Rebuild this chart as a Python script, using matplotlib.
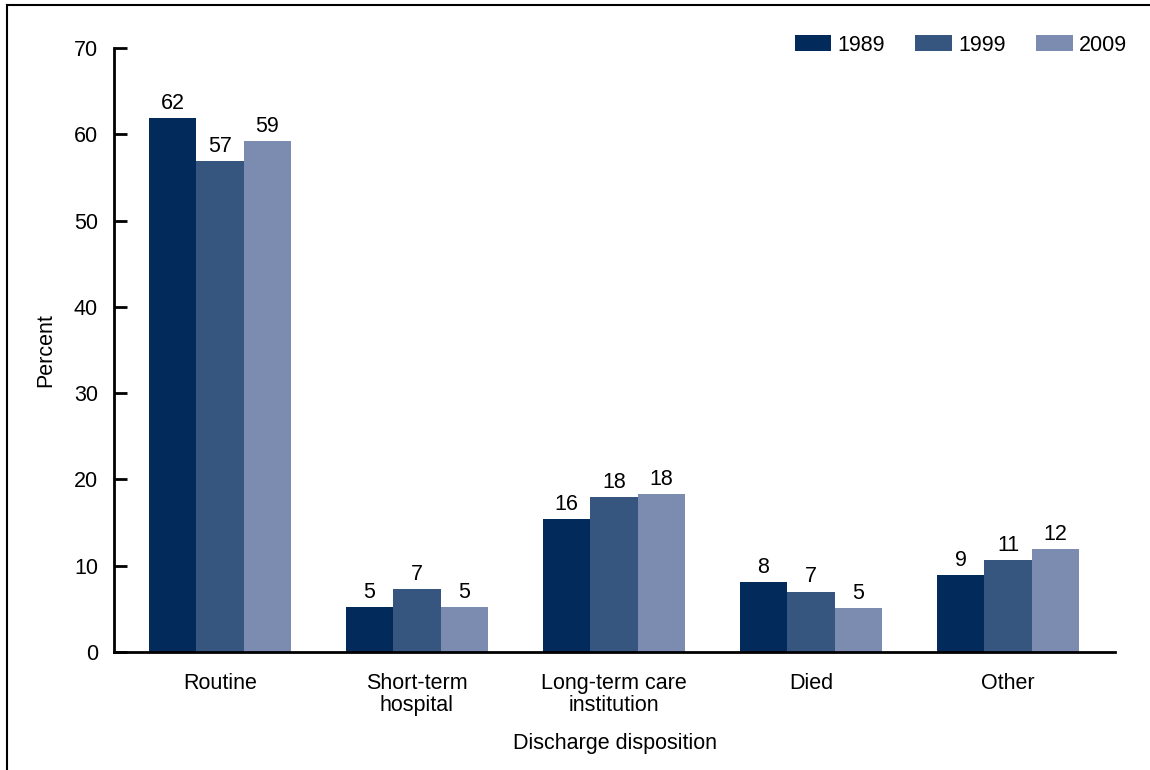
import numpy as np
import matplotlib
matplotlib.use('Agg')
import matplotlib.pyplot as plt
from matplotlib.lines import Line2D

plt.rcParams['font.family'] = ['Liberation Sans', 'DejaVu Sans']

categories = ['Routine', 'Short-term\nhospital', 'Long-term care\ninstitution', 'Died', 'Other']
years = ['1989', '1999', '2009']
v1989 = [61.9, 5.2, 15.4, 8.1, 8.9]
v1999 = [56.9, 7.3, 18.0, 7.0, 10.7]
v2009 = [59.2, 5.2, 18.3, 5.1, 11.9]
labels1989 = ['62', '5', '16', '8', '9']
labels1999 = ['57', '7', '18', '7', '11']
labels2009 = ['59', '5', '18', '5', '12']
colors = ['#022b5c', '#36557f', '#7b8cb0']

fs = 15.5
fig = plt.figure(figsize=(11.5, 7.7), dpi=100)
ax = fig.add_axes([0.0991, 0.1532, 0.8705, 0.7845])

x = np.arange(len(categories))
w = 0.241
series = [v1989, v1999, v2009]
texts = [labels1989, labels1999, labels2009]
for i, (vals, labs) in enumerate(zip(series, texts)):
    pos = x + (i - 1) * w
    ax.bar(pos, vals, width=w, color=colors[i], label=years[i], linewidth=0)
    for p, v, t in zip(pos, vals, labs):
        ax.annotate(t, (p, v), xytext=(0, 3), textcoords='offset points',
                    ha='center', va='bottom', fontsize=fs)

ax.set_xlim(-0.538, 4.543)
ax.set_ylim(0, 70)
ax.set_yticks(np.arange(0, 71, 10))
ax.set_xticks(x)
ax.set_xticklabels(categories, fontsize=fs, linespacing=1.1)
ax.tick_params(axis='x', length=0, pad=15)
ax.tick_params(axis='y', direction='in', length=9.5, width=2, labelsize=fs, pad=11.5)
for s in ['top', 'right']:
    ax.spines[s].set_visible(False)
for s in ['left', 'bottom']:
    ax.spines[s].set_linewidth(2)
ax.set_ylabel('Percent', fontsize=fs, labelpad=13)
ax.set_xlabel('Discharge disposition', fontsize=fs, labelpad=12)

fig.legend(loc='upper right', bbox_to_anchor=(0.997, 0.98), ncol=3, frameon=False,
           fontsize=fs, handlelength=1.7, handleheight=0.75, handletextpad=0.3,
           columnspacing=1.4)

# frame around the figure (top and left edges visible)
fig.add_artist(Line2D([0.006, 1.0], [0.993, 0.993], transform=fig.transFigure, color='black', linewidth=1.5))
fig.add_artist(Line2D([0.006, 0.006], [0.0, 0.993], transform=fig.transFigure, color='black', linewidth=1.5))

fig.savefig('out.png', dpi=100)
